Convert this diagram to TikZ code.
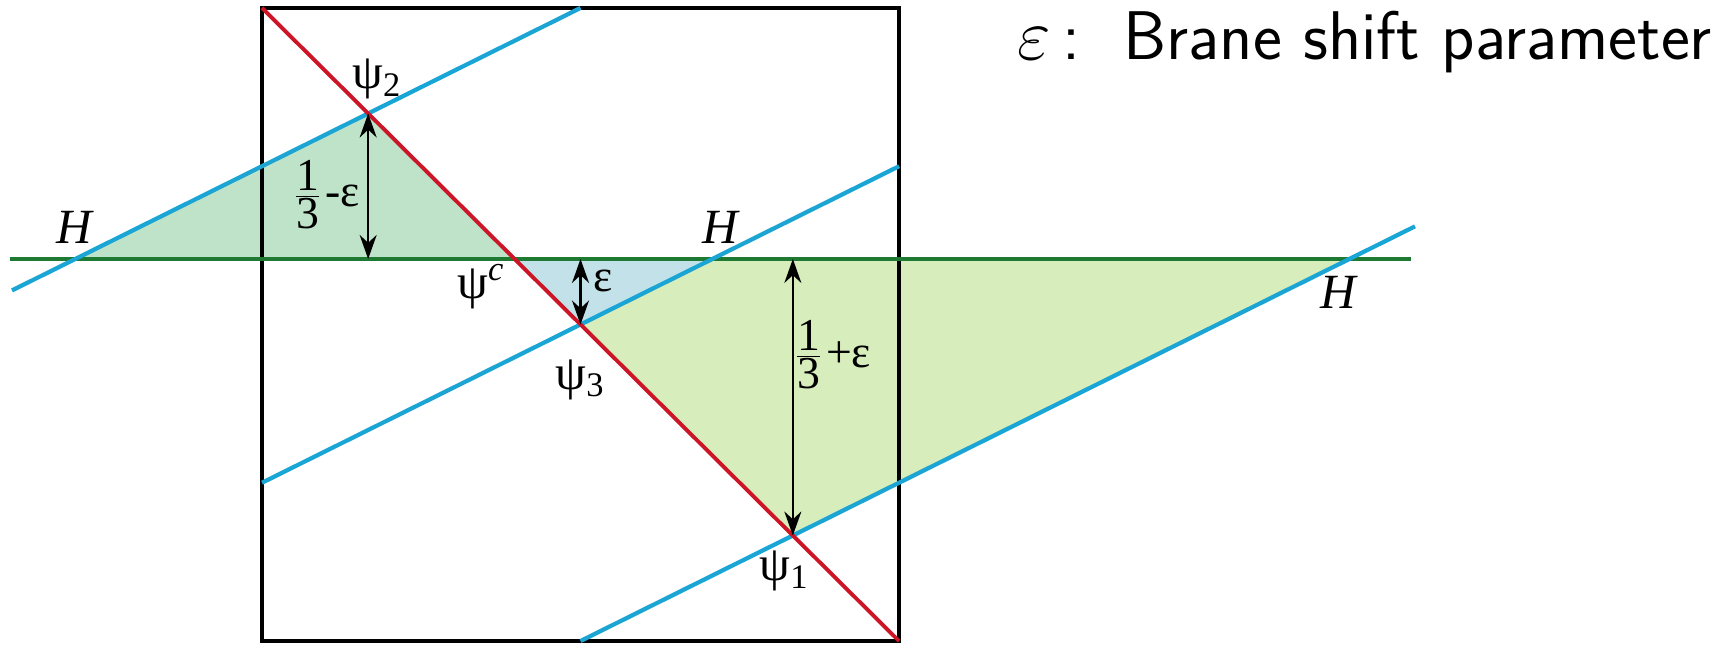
\documentclass[tikz,border=0pt]{standalone}
\usepackage{fontspec}
\newfontfamily\tms{Liberation Serif}
\usetikzlibrary{arrows.meta}
\definecolor{bluel}{HTML}{1BA5D5}
\definecolor{redl}{HTML}{CC1526}
\definecolor{greenl}{HTML}{1E7A32}
\definecolor{mint}{HTML}{BEE3C8}
\definecolor{lblue}{HTML}{C2E1E8}
\definecolor{lgreen}{HTML}{D8EDBC}
\newcommand\onethird{\ensuremath{\frac{\hbox{\tms 1}}{\hbox{\tms 3}}}}
\tikzset{
  bline/.style={draw=bluel,line width=1.2pt},
  rline/.style={draw=redl,line width=1.1pt},
  gline/.style={draw=greenl,line width=1.3pt},
  dim/.style={draw=black,line width=0.6pt,{Stealth[length=2.4mm,width=1.7mm]}-{Stealth[length=2.4mm,width=1.7mm]}},
  lab/.style={font=\tms\fontsize{14}{16}\selectfont,inner sep=0pt},
  hlab/.style={font=\tms\itshape\fontsize{14}{16}\selectfont,inner sep=0pt},
  flab/.style={font=\tms\fontsize{13}{15}\selectfont,inner sep=0pt}
}
\begin{document}
\begin{tikzpicture}[x={(6.37cm,0)},y={(0,6.33cm)}]
\useasboundingbox (-0.4113,-0.00474) rectangle (2.2794,1.0126);
% key points
\coordinate (psi2) at (1/6,5/6);
\coordinate (psi3) at (0.5,0.5);
\coordinate (psi1) at (5/6,1/6);
\coordinate (psic) at (0.3965,0.6035);
\coordinate (hl) at (-0.293,0.6035);
\coordinate (hm) at (0.707,0.6035);
\coordinate (hr) at (1.707,0.6035);
\coordinate (g0) at (-0.3956,0.6035);
\coordinate (g1) at (1.8038,0.6035);
\coordinate (b1s) at (-0.3925,0.5538);
\coordinate (b1e) at (0.5,1);
\coordinate (b2s) at (0,0.25);
\coordinate (b2e) at (1,0.75);
\coordinate (b3s) at (0.5,0);
\coordinate (b3e) at (1.81,0.655);
\coordinate (boxbl) at (0,0);
\coordinate (boxtr) at (1,1);
\coordinate (rs) at (0,1);
\coordinate (re) at (1,0);
% fills
\fill[mint] (hl) -- (psi2) -- (psic) -- cycle;
\fill[lblue] (psic) -- (psi3) -- (hm) -- cycle;
\fill[lgreen] (psi3) -- (hm) -- (hr) -- (psi1) -- cycle;
% box
\draw[line width=0.9pt] (boxbl) rectangle (boxtr);
% lines
\draw[gline] (g0) -- (g1);
\draw[bline] (b1s) -- (b1e);
\draw[bline] (b2s) -- (b2e);
\draw[bline] (b3s) -- (b3e);
\draw[rline] (rs) -- (re);
% dimension arrows
\draw[dim] (psi2) -- (psi2 |- psic);
\draw[dim] (psi3 |- psic) -- (psi3);
\draw[dim] (psi1 |- psic) -- (psi1);
% labels
\node[lab] (lpsi2) at (0.181,0.888) {ψ\textsubscript{2}};
\node[lab] (lpsi3) at (0.5,0.413) {ψ\textsubscript{3}};
\node[lab] (lpsi1) at (0.82,0.110) {ψ\textsubscript{1}};
\node[lab] (lpsic) at (0.344,0.560) {ψ\textsuperscript{\itshape c}};
\node[hlab] (hl1) at (-0.295,0.654) {H};
\node[hlab] (hm1) at (0.72,0.654) {H};
\node[hlab] (hr1) at (1.689,0.55) {H};
\node[flab] (l13m) at (0.10,0.705) {\onethird\kern0.5pt-ε};
\node[flab] (leps) at (0.535,0.569) {ε};
\node[flab] (l13p) at (0.895,0.452) {\onethird\kern0.5pt+ε};
\node[anchor=base west,inner sep=0pt,font=\sffamily\fontsize{19.6}{23}\selectfont] (title) at (1.185,0.918) {$\varepsilon$\,:\ \ Brane shift parameter};
\end{tikzpicture}
\end{document}
